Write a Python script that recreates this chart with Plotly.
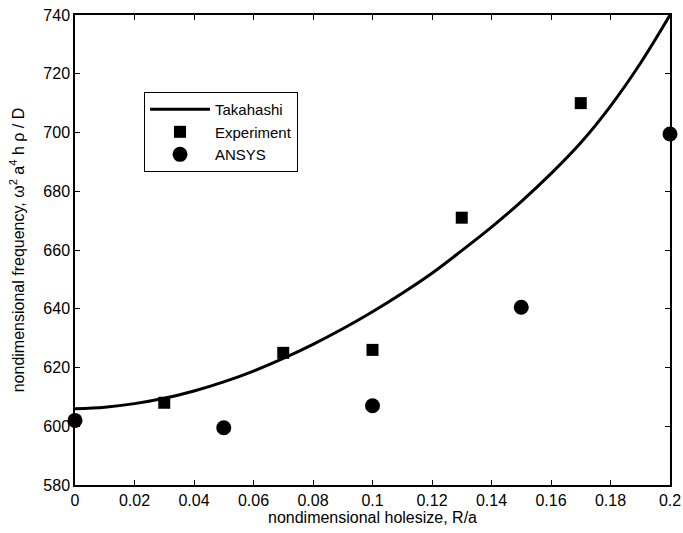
import plotly.graph_objects as go

# Data
takahashi_x = [0, 0.01, 0.02, 0.03, 0.04, 0.05, 0.06, 0.07, 0.08, 0.09, 0.1,
               0.11, 0.12, 0.13, 0.14, 0.15, 0.16, 0.17, 0.18, 0.19, 0.2]
takahashi_y = [606, 606.5, 607.7, 609.5, 612.0, 615.1, 618.8, 623.1, 627.9, 633.2, 639.0,
               645.3, 652.1, 659.8, 667.8, 676.5, 686.0, 696.5, 709.0, 723.5, 740]

experiment_x = [0.03, 0.07, 0.1, 0.13, 0.17]
experiment_y = [608, 625, 626, 671, 710]

ansys_x = [0, 0.05, 0.1, 0.15, 0.2]
ansys_y = [602, 599.5, 607, 640.5, 699.5]

x_ticks = [0, 0.02, 0.04, 0.06, 0.08, 0.1, 0.12, 0.14, 0.16, 0.18, 0.2]
x_tick_labels = ["0", "0.02", "0.04", "0.06", "0.08", "0.1", "0.12", "0.14", "0.16", "0.18", "0.2"]
y_ticks = [580, 600, 620, 640, 660, 680, 700, 720, 740]

fig = go.Figure()
fig.add_trace(go.Scatter(x=takahashi_x, y=takahashi_y, mode="lines", name="Takahashi",
                         line=dict(color="black", width=3, shape="spline", smoothing=1)))
fig.add_trace(go.Scatter(x=experiment_x, y=experiment_y, mode="markers", name="Experiment",
                         marker=dict(symbol="square", size=12, color="black"), cliponaxis=False))
fig.add_trace(go.Scatter(x=ansys_x, y=ansys_y, mode="markers", name="ANSYS",
                         marker=dict(symbol="circle", size=15, color="black"), cliponaxis=False))

font = "Liberation Sans, Arial, Helvetica, sans-serif"
fig.update_layout(
    width=683, height=533,
    margin=dict(l=75, r=13, t=15, b=48, autoexpand=False),
    paper_bgcolor="white", plot_bgcolor="white",
    font=dict(family=font, size=16, color="black"),
    showlegend=True,
    legend=dict(x=0.116, y=0.836, xanchor="left", yanchor="top",
                bordercolor="black", borderwidth=1, bgcolor="white",
                font=dict(size=15), itemwidth=60),
    xaxis=dict(range=[0, 0.2], tickvals=x_ticks, ticktext=x_tick_labels,
               ticks="inside", ticklen=5, tickcolor="black", showline=True,
               linecolor="black", linewidth=1.5, mirror="ticks", showgrid=False,
               zeroline=False, automargin=False,
               title=dict(text="nondimensional holesize, R/a", font=dict(size=16), standoff=2)),
    yaxis=dict(range=[580, 740], tickvals=y_ticks,
               ticks="inside", ticklen=5, tickcolor="black", showline=True,
               linecolor="black", linewidth=1.5, mirror="ticks", showgrid=False,
               zeroline=False, automargin=False,
               title=dict(text="nondimensional frequency, ω<sup>2</sup> a<sup>4</sup> h ρ / D",
                          font=dict(size=16))),
)

fig.write_html("out.html")
